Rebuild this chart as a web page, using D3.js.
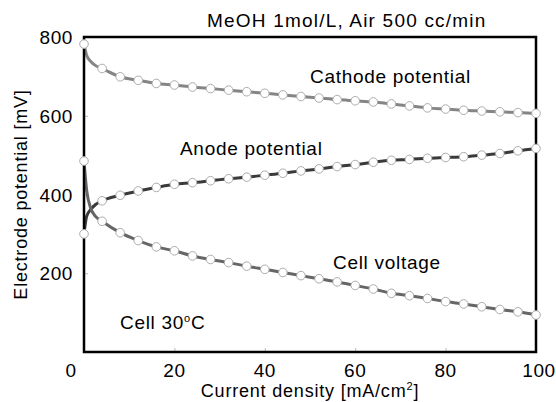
<!DOCTYPE html>
<html>
<head>
<meta charset="utf-8">
<script src="https://cdn.jsdelivr.net/npm/d3@7"></script>
<style>
  body { margin: 0; background: #fff; }
  svg { display: block; font-family: "Liberation Sans", Arial, sans-serif; }
</style>
</head>
<body>
<div id="chart"></div>
<script>
// marker positions (mA/cm2) and the three measured series (mV)
const currentDensity = [0, 4, 8, 12, 16, 20, 24, 28, 32, 36, 40, 44, 48, 52, 56, 60, 64, 68, 72, 76, 80, 84, 88, 92, 96, 100];
const cathode = [782, 720, 699, 690, 682, 678, 673, 669, 665, 661, 657, 653, 649, 645, 641, 638, 635, 630, 625, 620, 617, 614, 612, 610, 608, 606];
const anode   = [300, 384, 398, 409, 418, 426, 430, 435, 440, 444, 449, 454, 460, 465, 471, 476, 482, 487, 489, 492, 494, 496, 500, 504, 511, 517];
const cell    = [485, 332, 303, 283, 267, 257, 244, 235, 227, 218, 210, 202, 194, 186, 178, 169, 160, 149, 143, 136, 128, 122, 115, 108, 102, 94];

// the fitted lines bend sharply before the first marker; extra vertices
const startX       = [0.6, 1.5, 2.5];
const cathodeStart = [753, 738, 728];
const anodeStart   = [345, 362, 374];
const cellStart    = [410, 365, 345];

const xTicks = [0, 20, 40, 60, 80, 100];
const yTicks = [200, 400, 600, 800];

const width = 556, height = 402;
const margin = { top: 37, right: 20, bottom: 50, left: 84 };

const x = d3.scaleLinear().domain([0, 100]).range([margin.left, width - margin.right]);
const y = d3.scaleLinear().domain([0, 800]).range([height - margin.bottom, margin.top]);

const svg = d3.select("#chart").append("svg")
    .attr("width", width)
    .attr("height", height)
    .attr("viewBox", [0, 0, width, height]);

// small grey ticks sit inside the frame
const xAxis = g => g
    .attr("transform", `translate(0, ${y(0)})`)
    .call(d3.axisTop(x).tickValues(xTicks).tickSize(4).tickFormat(""))
    .call(g => g.select(".domain").remove())
    .call(g => g.selectAll("line").attr("stroke", "#bbb"));

const yAxis = g => g
    .attr("transform", `translate(${x(0)}, 0)`)
    .call(d3.axisRight(y).tickValues(yTicks).tickSize(4).tickFormat(""))
    .call(g => g.select(".domain").remove())
    .call(g => g.selectAll("line").attr("stroke", "#bbb"));

svg.append("g").call(xAxis);
svg.append("g").call(yAxis);

// tick labels
svg.append("g")
    .selectAll("text")
    .data(xTicks)
    .join("text")
    .attr("x", d => d === 0 ? x(d) - 13 : x(d) + (d === 100 ? 3 : 0))
    .attr("y", y(0) + 25)
    .attr("text-anchor", "middle")
    .attr("font-size", 19)
    .attr("letter-spacing", 0.6)
    .text(d => d);

svg.append("g")
    .selectAll("text")
    .data(yTicks)
    .join("text")
    .attr("x", x(0) - 11)
    .attr("y", d => y(d) + 7)
    .attr("text-anchor", "end")
    .attr("font-size", 19)
    .attr("letter-spacing", 0.6)
    .text(d => d);

const makeLine = d3.line()
    .x(d => x(d[0]))
    .y(d => y(d[1]))
    .curve(d3.curveMonotoneX);

const series = [
    { values: cathode, start: cathodeStart, color: "#858585" },
    { values: anode, start: anodeStart, color: "#3a3a3a" },
    { values: cell, start: cellStart, color: "#666666" }
];

series.forEach(s => {
    const pts = currentDensity.map((c, i) => [c, s.values[i]]);
    const linePts = [pts[0]].concat(startX.map((c, i) => [c, s.start[i]]), pts.slice(1));
    svg.append("path")
        .attr("d", makeLine(linePts))
        .attr("fill", "none")
        .attr("stroke", s.color)
        .attr("stroke-width", 3);
});

// frame on top of lines, under the markers
svg.append("rect")
    .attr("x", x(0))
    .attr("y", y(800))
    .attr("width", x(100) - x(0))
    .attr("height", y(0) - y(800))
    .attr("fill", "none")
    .attr("stroke", "#000")
    .attr("stroke-width", 2.5);

series.forEach(s => {
    svg.append("g")
        .selectAll("circle")
        .data(currentDensity.map((c, i) => [c, s.values[i]]))
        .join("circle")
        .attr("cx", d => x(d[0]))
        .attr("cy", d => y(d[1]))
        .attr("r", 4.3)
        .attr("fill", "#fff")
        .attr("stroke", "#acacac")
        .attr("stroke-width", 1);
});

// annotations
const note = (tx, ty, txt, ls) => svg.append("text")
    .attr("x", tx).attr("y", ty)
    .attr("font-size", 19)
    .attr("letter-spacing", ls || 0.7)
    .text(txt);

note(207, 27, "MeOH 1mol/L, Air 500 cc/min", 1.2);
note(310, 83, "Cathode potential");
note(180, 155, "Anode potential");
note(333, 269, "Cell voltage");

const c30 = svg.append("text")
    .attr("x", 120).attr("y", 329)
    .attr("font-size", 19)
    .attr("letter-spacing", 0.7);
c30.append("tspan").text("Cell 30");
c30.append("tspan").attr("font-size", 11).attr("dy", -7).text("o");
c30.append("tspan").attr("dy", 7).text("C");

// axis titles
const xt = svg.append("text")
    .attr("x", (x(0) + x(100)) / 2)
    .attr("y", 397)
    .attr("text-anchor", "middle")
    .attr("font-size", 18)
    .attr("letter-spacing", 0.8);
xt.append("tspan").text("Current density [mA/cm");
xt.append("tspan").attr("font-size", 11).attr("dy", -7).text("2");
xt.append("tspan").attr("dy", 7).text("]");

svg.append("text")
    .attr("transform", `translate(27, ${(y(0) + y(800)) / 2}) rotate(-90)`)
    .attr("text-anchor", "middle")
    .attr("font-size", 18)
    .attr("letter-spacing", 0.8)
    .text("Electrode potential [mV]");
</script>
</body>
</html>
